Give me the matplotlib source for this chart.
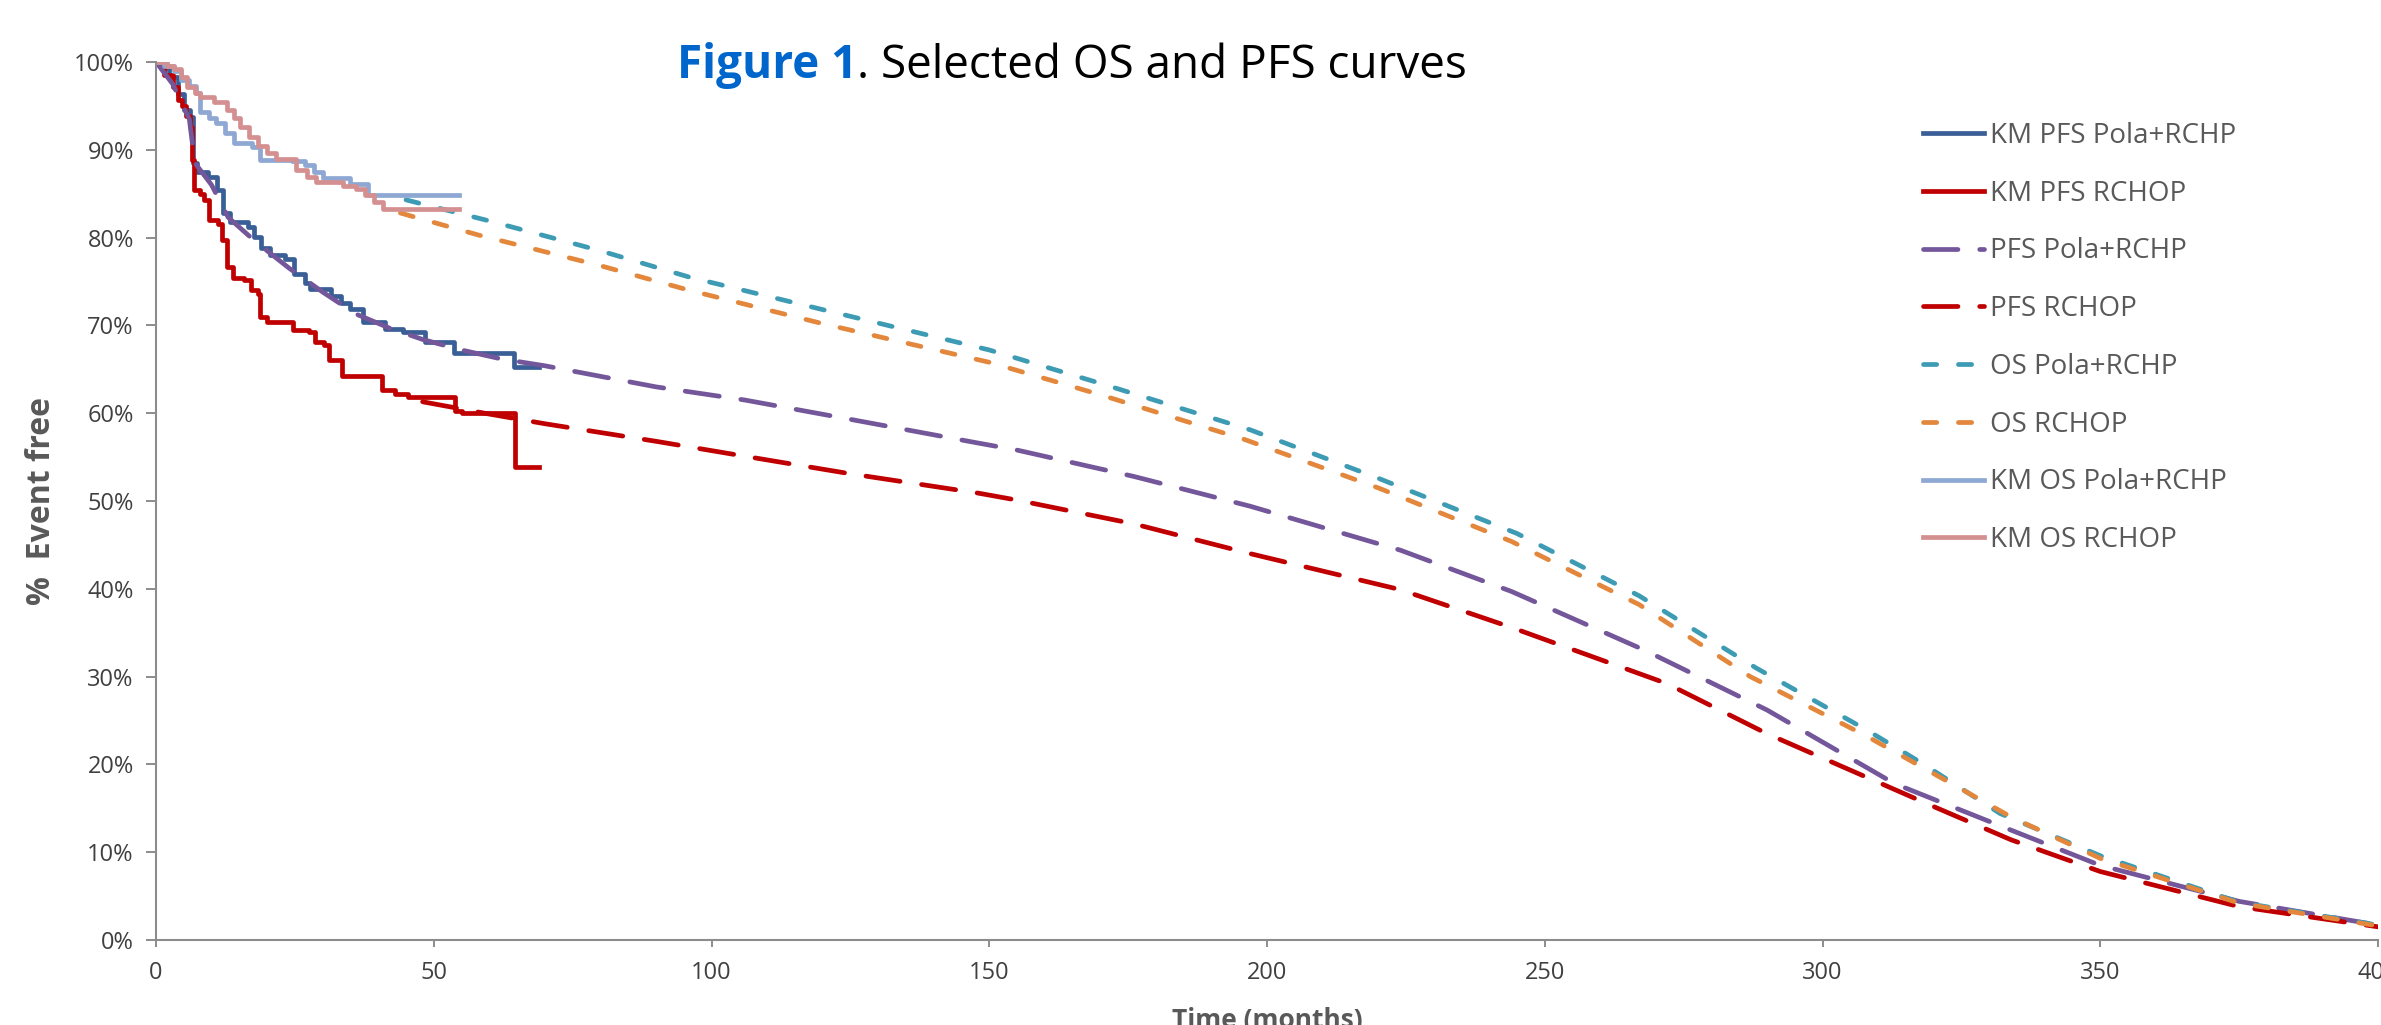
import numpy as np
import matplotlib
matplotlib.use("Agg")
import matplotlib.pyplot as plt
from matplotlib.ticker import PercentFormatter, MultipleLocator

plt.rcParams['font.family'] = ['Open Sans', 'DejaVu Sans']

# Kaplan-Meier steps (months, % event free)
km_pfs_pola_t = [0, 1.0, 2.3, 3.9, 5.0, 6.2, 6.6, 7.3, 9.3, 10.9, 12.1, 13.3, 16.5, 17.7, 18.9, 20.5,
                 23.3, 24.9, 26.9, 27.7, 31.5, 33.3, 34.9, 37.3, 41.3, 44.5, 48.5, 53.7, 64.4, 69.0]
km_pfs_pola_s = [100, 99.3, 98.3, 96.4, 94.5, 93.7, 88.5, 87.5, 86.9, 85.4, 82.8, 81.8, 81.2, 80.1, 78.8, 78.0,
                 77.6, 75.9, 74.8, 74.2, 73.3, 72.5, 71.9, 70.4, 69.6, 69.2, 68.1, 66.8, 65.3, 65.3]

km_pfs_rchop_t = [0, 1.5, 3.1, 3.9, 4.7, 5.4, 6.1, 6.5, 6.9, 7.9, 8.7, 9.5, 11.1, 11.9, 12.7, 13.9, 15.9,
                  17.1, 18.3, 18.7, 19.9, 24.7, 27.5, 28.7, 30.3, 31.1, 33.5, 40.6, 43.0, 45.4, 53.9, 55.0,
                  64.6, 69.0]
km_pfs_rchop_s = [100, 98.5, 97.2, 95.7, 95.0, 93.8, 92.6, 88.8, 85.4, 85.0, 84.3, 82.0, 81.6, 79.7, 76.7, 75.4, 75.2,
                  74.0, 73.6, 71.0, 70.4, 69.5, 69.3, 68.1, 67.8, 66.1, 64.2, 62.6, 62.2, 61.9, 60.3, 60.0,
                  53.9, 53.9]

km_os_pola_t = [0, 1.5, 3.3, 4.5, 6.0, 7.2, 8.0, 9.5, 10.8, 12.4, 14.0, 17.2, 18.8, 24.4, 26.8, 28.4,
                30.0, 34.9, 38.1, 54.5]
km_os_pola_s = [100, 99.5, 99.0, 98.0, 97.3, 96.5, 94.3, 93.6, 93.0, 91.9, 90.8, 90.3, 88.8, 88.7, 88.3, 87.5,
                86.8, 86.1, 84.9, 84.9]

km_os_rchop_t = [0, 2.0, 3.3, 4.5, 5.6, 7.0, 8.0, 10.4, 12.8, 14.0, 15.2, 16.8, 18.4, 20.0, 21.6, 25.2,
                 27.2, 28.8, 33.6, 36.0, 37.6, 39.2, 40.8, 54.5]
km_os_rchop_s = [100, 99.6, 99.2, 98.3, 97.2, 96.5, 96.0, 95.5, 94.5, 93.6, 92.6, 91.5, 90.4, 89.6, 89.0, 87.7,
                 86.9, 86.3, 85.9, 85.5, 84.8, 84.1, 83.3, 83.3]

# modelled / extrapolated curves
pfs_pola_t = [0, 3, 6, 7, 10, 13, 18, 24, 30, 36, 42, 48, 55, 62, 70, 80, 90, 106, 125, 148, 155, 176,
              197, 224, 244, 268, 290, 313, 334, 350, 375, 400]
pfs_pola_s = [100, 97.5, 93.5, 88.5, 86.0, 82.3, 79.5, 76.5, 73.8, 71.3, 69.7, 68.4, 67.2, 66.2, 65.4, 64.2,
              63.0, 61.5, 59.3, 56.6, 55.8, 52.8, 49.4, 44.4, 39.7, 33.0, 26.2, 17.8, 12.5, 8.5, 4.4, 1.7]

pfs_rchop_t = [48, 60, 70, 80, 90, 106, 125, 148, 155, 176, 197, 224, 244, 272, 290, 320, 334, 350, 375, 400]
pfs_rchop_s = [61.3, 59.9, 58.8, 57.8, 56.8, 55.1, 53.1, 50.9, 50.1, 47.4, 44.0, 39.9, 35.6, 29.2, 23.5,
               15.2, 11.4, 7.8, 3.8, 1.5]

os_pola_t = [45, 60, 80, 96, 120, 150, 170, 197, 220, 245, 267, 288, 308, 318, 332, 350, 375, 400]
os_pola_s = [84.3, 81.9, 78.5, 75.5, 71.8, 67.2, 63.4, 58.1, 52.6, 46.3, 39.2, 31.0, 23.9, 20.1, 14.4,
             9.6, 4.3, 1.7]

os_rchop_t = [44, 58, 80, 96, 120, 150, 170, 196, 220, 244, 267, 287, 308, 334, 350, 375, 400]
os_rchop_s = [82.8, 80.3, 76.8, 74.0, 70.2, 65.8, 62.1, 57.0, 51.5, 45.4, 38.2, 30.0, 23.2, 14.0, 9.3,
              4.2, 1.6]

W, H = 2381, 1025
fig = plt.figure(figsize=(W / 100, H / 100), dpi=100)
ax = fig.add_axes([156 / W, 1 - 940 / H, (2378 - 156) / W, (940 - 62) / H])

lw = 3.4
short_dash = (2.8, 4.6)
long_dash = (7.3, 4.6)

ax.step(km_pfs_pola_t, km_pfs_pola_s, where='post', color='#3A5F96', lw=lw, label='KM PFS Pola+RCHP')
ax.step(km_pfs_rchop_t, km_pfs_rchop_s, where='post', color='#C00000', lw=lw, label='KM PFS RCHOP')
ax.plot(pfs_pola_t, pfs_pola_s, color='#73579A', lw=lw, dashes=long_dash, dash_capstyle='round',
        label='PFS Pola+RCHP')
ax.plot(pfs_rchop_t, pfs_rchop_s, color='#C00000', lw=lw, dashes=long_dash, dash_capstyle='round',
        label='PFS RCHOP')
ax.plot(os_pola_t, os_pola_s, color='#3E9BB4', lw=lw, dashes=short_dash, dash_capstyle='round',
        label='OS Pola+RCHP')
ax.plot(os_rchop_t, os_rchop_s, color='#E3873C', lw=lw, dashes=short_dash, dash_capstyle='round',
        label='OS RCHOP')
ax.step(km_os_pola_t, km_os_pola_s, where='post', color='#8EA8D3', lw=lw, label='KM OS Pola+RCHP')
ax.step(km_os_rchop_t, km_os_rchop_s, where='post', color='#D49090', lw=lw, label='KM OS RCHOP')

ax.set_xlim(0, 400)
ax.set_ylim(0, 100)
ax.xaxis.set_major_locator(MultipleLocator(50))
ax.yaxis.set_major_locator(MultipleLocator(10))
ax.yaxis.set_major_formatter(PercentFormatter(100, decimals=0))

for s in ['top', 'right']:
    ax.spines[s].set_visible(False)
for s in ['left', 'bottom']:
    ax.spines[s].set_color('#8C8C8C')
    ax.spines[s].set_linewidth(1.5)
ax.tick_params(axis='y', length=7, width=1.4, color='#8C8C8C', pad=9, labelsize=17, labelcolor='#404040')
ax.tick_params(axis='x', length=5, width=1.4, color='#8C8C8C', pad=10, labelsize=17, labelcolor='#404040')

ax.set_ylabel('%  Event free', fontsize=23, fontweight='bold', color='#595959')
ax.yaxis.set_label_coords(-0.044, 0.5)
ax.set_xlabel('Time (months)', fontsize=19, fontweight='bold', color='#595959')
ax.xaxis.set_label_coords(0.5, -0.076)

leg = ax.legend(loc='upper left', bbox_to_anchor=(1923 / W, 1 - 122 / H), bbox_transform=fig.transFigure,
                frameon=False, fontsize=20, handlelength=2.2, handletextpad=0.22, labelspacing=1.07,
                borderpad=0, borderaxespad=0)
for t in leg.get_texts():
    t.set_color('#595959')

t1 = fig.text(677 / W, 1 - 78 / H, 'Figure 1', fontsize=33, fontweight='bold', color='#0066CC',
              va='baseline', ha='left')
ax.annotate('. Selected OS and PFS curves', xy=(1, 0), xycoords=t1, fontsize=33, color='black',
            va='bottom', ha='left', annotation_clip=False)

fig.savefig('out.png', dpi=100)
